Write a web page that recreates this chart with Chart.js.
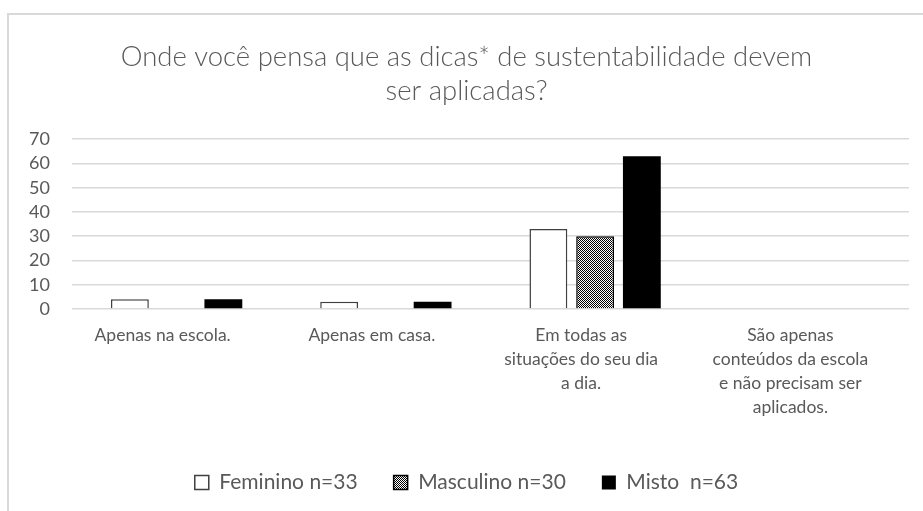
<!DOCTYPE html>
<html>
<head>
<meta charset="utf-8">
<script src="https://cdn.jsdelivr.net/npm/chart.js@4.4.1/dist/chart.umd.min.js"></script>
<style>
  html, body { margin: 0; padding: 0; background: #fff; }
  #frame { position: absolute; left: 7px; top: 13px; width: 940px; height: 520px;
           border-left: 2px solid #d9d9d9; border-top: 2px solid #d9d9d9; }
  #wrap { position: absolute; left: 0; top: 0; width: 923px; height: 511px; }
</style>
</head>
<body>
<div id="frame"></div>
<div id="wrap"><canvas id="c" width="923" height="511"></canvas></div>
<script>
const categories = [
  "Apenas na escola.",
  "Apenas em casa.",
  ["Em todas as", "situações do seu dia", "a dia."],
  ["São apenas", "conteúdos da escola", "e não precisam ser", "aplicados."]
];
const feminino = [4, 3, 33, 0];
const masculino = [0, 0, 30, 0];
const misto = [4, 3, 63, 0];
const seriesNames = ["Feminino n=33", "Masculino n=30", "Misto  n=63"];
const titleLines = ["Onde você pensa que as dicas* de sustentabilidade devem", "ser aplicadas?"];
const yTicks = { min: 0, max: 70, step: 10 };

const textColor = '#595959';
const fontFamily = 'Lato, "Open Sans", sans-serif';

function makePattern() {
  const pc = document.createElement('canvas');
  pc.width = 2; pc.height = 2;
  const g = pc.getContext('2d');
  g.fillStyle = '#ffffff'; g.fillRect(0, 0, 2, 2);
  g.fillStyle = '#000000';
  g.fillRect(0, 0, 1, 1); g.fillRect(1, 1, 1, 1);
  return document.getElementById('c').getContext('2d').createPattern(pc, 'repeat');
}
const pattern = makePattern();

new Chart(document.getElementById('c'), {
  type: 'bar',
  data: {
    labels: categories,
    datasets: [
      { label: seriesNames[0], data: feminino, backgroundColor: '#ffffff', borderColor: '#404040', borderWidth: 1.5 },
      { label: seriesNames[1], data: masculino, backgroundColor: pattern, borderColor: '#000000', borderWidth: 1.5 },
      { label: seriesNames[2], data: misto, backgroundColor: '#000000', borderColor: '#000000', borderWidth: 0 }
    ]
  },
  options: {
    responsive: false,
    animation: false,
    categoryPercentage: 0.67,
    barPercentage: 0.81,
    layout: { padding: { left: 24, right: 14, top: 0, bottom: 8 } },
    plugins: {
      title: {
        display: true,
        text: titleLines,
        color: textColor,
        font: { family: fontFamily, size: 27.5, weight: '300', lineHeight: 1.24 },
        padding: { top: 40, bottom: 31 }
      },
      legend: {
        position: 'bottom',
        labels: {
          color: textColor,
          font: { family: fontFamily, size: 21 },
          boxWidth: 14, boxHeight: 14,
          padding: 36
        }
      },
      tooltip: { enabled: false }
    },
    scales: {
      x: {
        grid: { display: false, drawTicks: false },
        border: { display: false },
        ticks: { color: textColor, font: { family: fontFamily, size: 17.5, lineHeight: 1.37 }, padding: 14, labelOffset: -14, maxRotation: 0, autoSkip: false },
        afterFit: s => { s.height = 127; }
      },
      y: {
        min: yTicks.min, max: yTicks.max,
        grid: { color: '#d9d9d9', lineWidth: 1.5, drawTicks: false },
        border: { display: false },
        ticks: { stepSize: yTicks.step, color: textColor, font: { family: fontFamily, size: 18 }, padding: 22, autoSkip: false },
        afterFit: s => { s.width = 48; }
      }
    }
  }
});
</script>
</body>
</html>
